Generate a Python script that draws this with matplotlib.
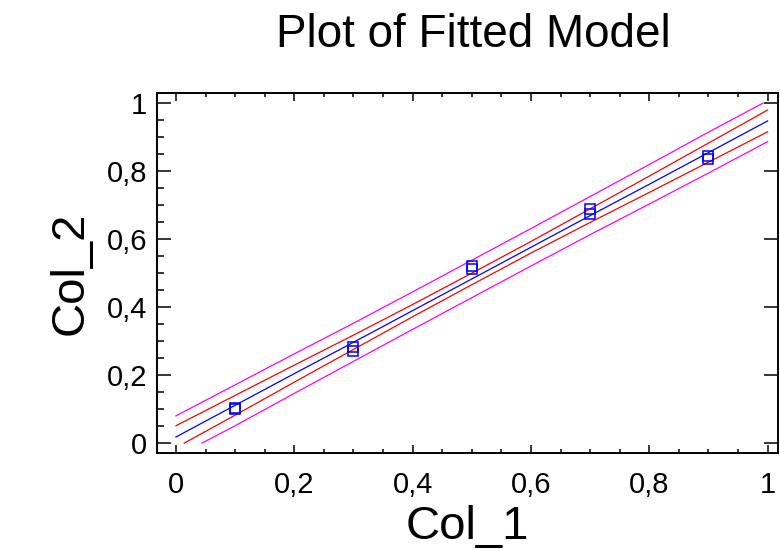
import numpy as np
import matplotlib.pyplot as plt
from matplotlib.ticker import MultipleLocator, FuncFormatter

plt.rcParams['font.family'] = ['Liberation Sans', 'DejaVu Sans']

# observed points
col_1 = [0.1, 0.1, 0.3, 0.3, 0.5, 0.5, 0.7, 0.7, 0.9, 0.9]
col_2 = [0.100, 0.104, 0.271, 0.283, 0.510, 0.521, 0.672, 0.686, 0.835, 0.843]

# fitted line and limits
x_fit = [0.0, 0.1, 0.2, 0.3, 0.4, 0.5, 0.6, 0.7, 0.8, 0.9, 1.0]
y_fit = [0.018, 0.111, 0.204, 0.296, 0.389, 0.482, 0.575, 0.668, 0.760, 0.853, 0.946]

x_conf_hi = [0.0, 0.1, 0.2, 0.3, 0.4, 0.5, 0.6, 0.7, 0.8, 0.9, 1.0]
y_conf_hi = [0.051, 0.140, 0.229, 0.317, 0.407, 0.499, 0.592, 0.688, 0.784, 0.881, 0.978]
x_conf_lo = [0.014, 0.1, 0.2, 0.3, 0.4, 0.5, 0.6, 0.7, 0.8, 0.9, 1.0]
y_conf_lo = [0.0, 0.082, 0.179, 0.275, 0.371, 0.465, 0.558, 0.648, 0.736, 0.825, 0.914]

x_pred_hi = [0.0, 0.1, 0.2, 0.3, 0.4, 0.5, 0.6, 0.7, 0.8, 0.9, 0.992]
y_pred_hi = [0.080, 0.171, 0.262, 0.352, 0.444, 0.537, 0.630, 0.724, 0.818, 0.913, 0.998]
x_pred_lo = [0.044, 0.1, 0.2, 0.3, 0.4, 0.5, 0.6, 0.7, 0.8, 0.9, 1.0]
y_pred_lo = [0.0, 0.051, 0.146, 0.240, 0.334, 0.427, 0.520, 0.612, 0.702, 0.793, 0.885]

fig = plt.figure(figsize=(7.8, 5.49), dpi=100)
ax = fig.add_axes([157/780, 1-453/549, 623/780 - 0.003, (453-93)/549])

ax.plot(x_pred_hi, y_pred_hi, color='#ff00ff', lw=0.9)
ax.plot(x_pred_lo, y_pred_lo, color='#ff00ff', lw=0.9)
ax.plot(x_conf_hi, y_conf_hi, color='#ff0000', lw=0.9)
ax.plot(x_conf_lo, y_conf_lo, color='#ff0000', lw=0.9)
ax.plot(x_fit, y_fit, color='#0000ff', lw=0.9)
ax.plot(col_1, col_2, 's', ms=7, mfc='none', mec='#0000ff', mew=1.1)

ax.set_xlim(-0.032, 1.017)
ax.set_ylim(-0.029, 1.028)

fmt = FuncFormatter(lambda v, p: ('%g' % round(v, 2)).replace('.', ','))
for a in (ax.xaxis, ax.yaxis):
    a.set_major_locator(MultipleLocator(0.2))
    a.set_minor_locator(MultipleLocator(0.05))
    a.set_major_formatter(fmt)

ax.tick_params(axis='both', which='both', direction='in', width=1.1, labelsize=21, color='black')
ax.tick_params(axis='x', which='major', top=True, length=6, pad=13)
ax.tick_params(axis='x', which='minor', top=True, length=3)
ax.tick_params(axis='y', which='major', right=True, length=10, pad=7)
ax.tick_params(axis='y', which='minor', right=False, length=5)

for s in ax.spines.values():
    s.set_linewidth(1.4)

ax.set_xlabel('Col_1', fontsize=34, labelpad=4)
ax.set_ylabel('Col_2', fontsize=34, labelpad=10)
fig.text(473/780, 1-35/549, 'Plot of Fitted Model', fontsize=33, ha='center', va='center')

fig.savefig('out.png', dpi=100)
